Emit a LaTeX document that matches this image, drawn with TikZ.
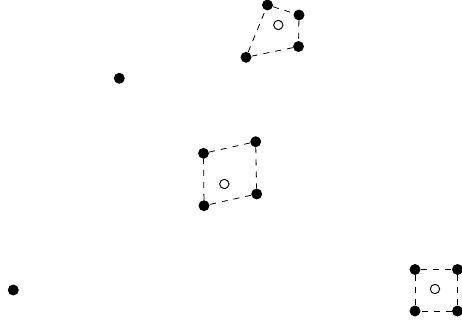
\documentclass[tikz,border=0pt]{standalone}
\begin{document}
\begin{tikzpicture}[x=0.75pt,y=-0.75pt,
  dot/.style={circle,fill=black,inner sep=0pt,minimum size=8.2pt},
  hole/.style={circle,draw=black,fill=white,line width=0.7pt,inner sep=0pt,minimum size=7pt},
  edge/.style={dashed,line width=0.6pt,dash pattern=on 4.5pt off 4.5pt}]
\useasboundingbox (0,0) rectangle (462,326);
% top cluster
\node[dot] (a1) at (267.5,5) {};
\node[dot] (a2) at (299,15) {};
\node[dot] (a3) at (298.5,46.5) {};
\node[dot] (a4) at (246,57.3) {};
\node[hole] (ac) at (278.3,25) {};
\draw[edge] (a1) -- (a2) -- (a3) -- (a4) -- (a1);
% middle cluster
\node[dot] (b1) at (203.5,153.3) {};
\node[dot] (b2) at (255.7,141.7) {};
\node[dot] (b3) at (256.7,194) {};
\node[dot] (b4) at (204,205.7) {};
\node[hole] (bc) at (224.3,184) {};
\draw[edge] (b1) -- (b2) -- (b3) -- (b4) -- (b1);
% bottom-right cluster
\node[dot] (c1) at (415,269.5) {};
\node[dot] (c2) at (457.5,269.5) {};
\node[dot] (c3) at (457.5,311) {};
\node[dot] (c4) at (415,311) {};
\node[hole] (cc) at (435,289) {};
\draw[edge] (c1) -- (c2) -- (c3) -- (c4) -- (c1);
% isolated dots
\node[dot] (p1) at (119.3,78.3) {};
\node[dot] (p2) at (13.3,290) {};
\end{tikzpicture}
\end{document}
